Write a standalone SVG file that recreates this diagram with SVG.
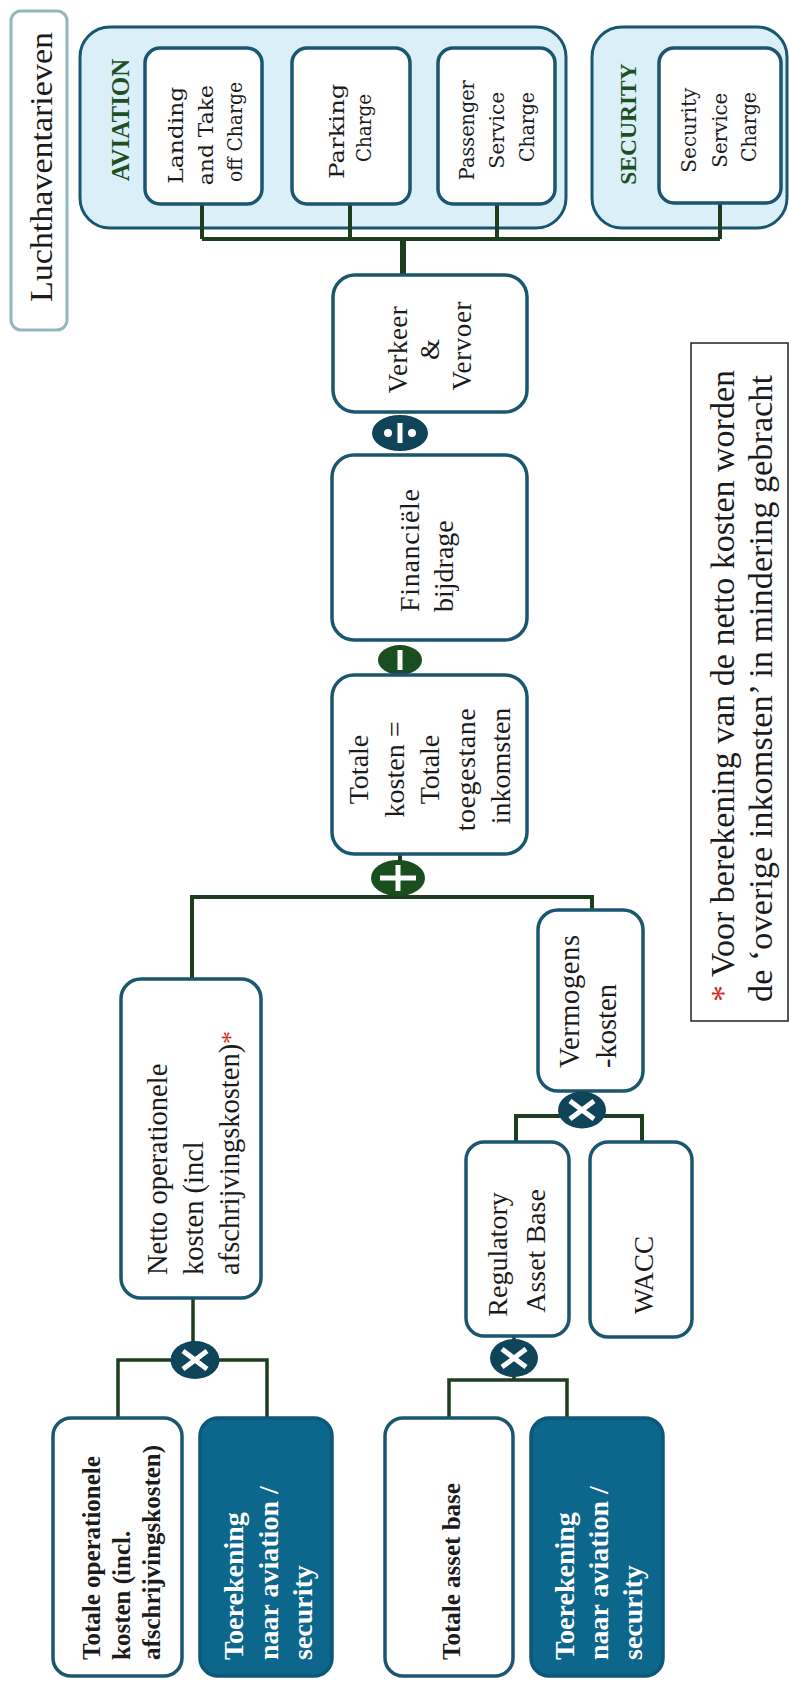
<svg xmlns="http://www.w3.org/2000/svg" width="789" height="1682" viewBox="0 0 789 1682" font-family="'Liberation Serif', 'Times New Roman', serif">
<style>
.bg{fill:#ffffff}
.cont{fill:#dbeff8;stroke:#1b5670;stroke-width:3}
.box{fill:#ffffff;stroke:#1b5670;stroke-width:3.5}
.dark{fill:#0d668b;stroke:#0b5877;stroke-width:3.5}
.title{fill:#ffffff;stroke:#93b7bd;stroke-width:3}
.note{fill:#ffffff;stroke:#222222;stroke-width:1.5}
.con{fill:none;stroke:#1c3d1e;stroke-width:4;stroke-linejoin:miter}
.opg{fill:#1a4d20}
.opt{fill:#0f4459}
.sym{fill:#ffffff}
.symx{stroke:#ffffff;stroke-width:5;stroke-linecap:butt}
text{font-family:"Liberation Serif","Times New Roman",serif;fill:#1b1b1b}
.slab{font-family:"DejaVu Serif","Liberation Serif",serif;font-size:20px}
.t28{font-size:28px}
.hdr{font-weight:bold;fill:#1d4f22}
.b25{font-size:25px;font-weight:bold}
.w28{font-size:28px;font-weight:bold;fill:#ffffff}
.red{fill:#d42a2a}
</style>
<rect class="bg" x="0" y="0" width="789" height="1682"/>

<g id="title">
<rect class="title" x="11" y="11" width="56" height="319" rx="10"/>
<text transform="translate(52,167) rotate(-90)" text-anchor="middle" font-size="32" textLength="270" lengthAdjust="spacingAndGlyphs">Luchthaventarieven</text>
</g>

<g id="aviation">
<rect class="cont" x="80" y="27" width="486" height="201" rx="30"/>
<text class="hdr" transform="translate(129,120) rotate(-90)" text-anchor="middle" font-size="25">AVIATION</text>
</g>
<g id="security">
<rect class="cont" x="592" y="27" width="195" height="201" rx="30"/>
<text class="hdr" transform="translate(636,124) rotate(-90)" text-anchor="middle" font-size="23.5">SECURITY</text>
</g>

<g id="connectors">
<path class="con" d="M202,204 V239 M350,204 V239 M497,200 V239 M720,203 V239 M202,239 H720"/>
<path class="con" style="stroke-width:6" d="M403,239 V276"/>
<path class="con" d="M400,853 V870"/>
<path class="con" d="M192,979 V897 H592 V910"/>
<path class="con" d="M516,1142 V1116 H642 V1142"/>
<path class="con" style="stroke-width:3.5" d="M193,1298 V1360 M118,1418 V1360 H267 V1418"/>
<path class="con" style="stroke-width:3.5" d="M514,1336 V1380 M449,1418 V1380 H567 V1418"/>
</g>

<g id="landing">
<rect class="box" x="145" y="48" width="117" height="156" rx="15"/>
<text class="slab" transform="translate(183,132) rotate(-90)" text-anchor="middle">
<tspan x="0" y="0" textLength="97" lengthAdjust="spacingAndGlyphs">Landing</tspan>
<tspan x="0" dy="30" textLength="100" lengthAdjust="spacingAndGlyphs">and Take</tspan>
<tspan x="0" dy="29" textLength="100" lengthAdjust="spacingAndGlyphs">off Charge</tspan>
</text>
</g>
<g id="parking">
<rect class="box" x="292" y="48" width="118" height="156" rx="15"/>
<text class="slab" transform="translate(344,128) rotate(-90)" text-anchor="middle">
<tspan x="0" y="0" textLength="95" lengthAdjust="spacingAndGlyphs">Parking</tspan>
<tspan x="0" dy="27" textLength="68" lengthAdjust="spacingAndGlyphs">Charge</tspan>
</text>
</g>
<g id="passenger">
<rect class="box" x="438" y="48" width="117" height="156" rx="15"/>
<text class="slab" transform="translate(474,127) rotate(-90)" text-anchor="middle">
<tspan x="0" y="0" textLength="100" lengthAdjust="spacingAndGlyphs">Passenger</tspan>
<tspan x="0" dy="30" textLength="77" lengthAdjust="spacingAndGlyphs">Service</tspan>
<tspan x="0" dy="30" textLength="70" lengthAdjust="spacingAndGlyphs">Charge</tspan>
</text>
</g>
<g id="securitycharge">
<rect class="box" x="659" y="48" width="122" height="155" rx="15"/>
<text class="slab" transform="translate(696,127) rotate(-90)" text-anchor="middle">
<tspan x="0" y="0" textLength="85" lengthAdjust="spacingAndGlyphs">Security</tspan>
<tspan x="0" dy="31" textLength="75" lengthAdjust="spacingAndGlyphs">Service</tspan>
<tspan x="0" dy="29" textLength="70" lengthAdjust="spacingAndGlyphs">Charge</tspan>
</text>
</g>

<g id="verkeer">
<rect class="box" x="333" y="275" width="194" height="137" rx="22"/>
<text transform="translate(407,346) rotate(-90)" text-anchor="middle" font-size="27">
<tspan x="0" y="0" textLength="87" lengthAdjust="spacing">Verkeer</tspan>
<tspan x="0" dy="32">&amp;</tspan>
<tspan x="0" dy="32" textLength="89" lengthAdjust="spacing">Vervoer</tspan>
</text>
</g>
<g id="op-divide">
<ellipse class="opt" cx="400" cy="433" rx="28" ry="18"/>
<rect class="sym" x="397.5" y="423" width="5" height="20"/>
<circle class="sym" cx="388" cy="433" r="4"/>
<circle class="sym" cx="412" cy="433" r="4"/>
</g>
<g id="financiele">
<rect class="box" x="332" y="455" width="195" height="185" rx="22"/>
<text class="t28" transform="translate(419,612) rotate(-90)">
<tspan x="0" y="0" textLength="123" lengthAdjust="spacing">Financiële</tspan>
<tspan x="0" dy="34">bijdrage</tspan>
</text>
</g>
<g id="op-minus">
<ellipse class="opg" cx="400" cy="660" rx="22" ry="15"/>
<rect class="sym" x="397.5" y="650" width="5" height="20"/>
</g>
<g id="totale-kosten">
<rect class="box" x="332" y="675" width="195" height="179" rx="22"/>
<text class="t28" transform="translate(368,766) rotate(-90)" text-anchor="middle">
<tspan x="0" y="0">Totale</tspan>
<tspan x="0" dy="35.5">kosten =</tspan>
<tspan x="0" dy="35.5">Totale</tspan>
<tspan x="0" dy="35.5" textLength="123" lengthAdjust="spacing">toegestane</tspan>
<tspan x="0" dy="35.5">inkomsten</tspan>
</text>
</g>
<g id="op-plus">
<ellipse class="opg" cx="398" cy="878" rx="27" ry="18"/>
<rect class="sym" x="380" y="875.5" width="36" height="5"/>
<rect class="sym" x="395.5" y="865" width="5" height="26"/>
</g>

<g id="netto">
<rect class="box" x="121" y="979" width="140" height="319" rx="20"/>
<text transform="translate(167,1275) rotate(-90)" font-size="28.5">
<tspan x="0" y="0">Netto operationele</tspan>
<tspan x="0" dy="36">kosten (incl</tspan>
<tspan x="0" dy="36">afschrijvingskosten)</tspan><tspan class="red" font-size="26">*</tspan>
</text>
</g>
<g id="vermogens">
<rect class="box" x="538" y="910" width="105" height="181" rx="20"/>
<text transform="translate(579,1068) rotate(-90)" font-size="28.5">
<tspan x="0" y="0" textLength="133" lengthAdjust="spacing">Vermogens</tspan>
<tspan x="0" dy="37">-kosten</tspan>
</text>
</g>
<g id="op-times-1">
<ellipse class="opt" cx="582" cy="1110" rx="24" ry="18.5"/>
<path class="symx" d="M570,1101 L594,1119 M570,1119 L594,1101"/>
</g>
<g id="rab">
<rect class="box" x="466" y="1142" width="103" height="194" rx="18"/>
<text class="t28" transform="translate(507,1251) rotate(-90)" text-anchor="middle">
<tspan x="0" y="0">Regulatory</tspan>
<tspan x="0" dy="38">Asset Base</tspan>
</text>
</g>
<g id="wacc">
<rect class="box" x="590" y="1142" width="102" height="195" rx="18"/>
<text transform="translate(653,1275) rotate(-90)" text-anchor="middle" font-size="27">WACC</text>
</g>
<g id="op-times-2">
<ellipse class="opt" cx="195" cy="1360" rx="24.5" ry="19"/>
<path class="symx" d="M183,1351 L207,1369 M183,1369 L207,1351"/>
</g>
<g id="op-times-3">
<ellipse class="opt" cx="514" cy="1358" rx="24" ry="19"/>
<path class="symx" d="M502,1349 L526,1367 M502,1367 L526,1349"/>
</g>

<g id="totale-operationele">
<rect class="box" x="53" y="1418" width="129" height="258" rx="18"/>
<text transform="translate(100,1660) rotate(-90)" font-size="25" font-weight="bold">
<tspan x="0" y="0">Totale operationele</tspan>
<tspan x="0" dy="30">kosten (incl.</tspan>
<tspan x="0" dy="30" textLength="215" lengthAdjust="spacingAndGlyphs">afschrijvingskosten)</tspan>
</text>
</g>
<g id="toerekening-1">
<rect class="dark" x="200" y="1418" width="132" height="258" rx="18"/>
<text class="w28" transform="translate(243,1660) rotate(-90)">
<tspan x="0" y="0">Toerekening</tspan>
<tspan x="0" dy="34.5">naar aviation /</tspan>
<tspan x="0" dy="34.5">security</tspan>
</text>
</g>
<g id="totale-asset-base">
<rect class="box" x="385" y="1418" width="128" height="258" rx="18"/>
<text class="b25" transform="translate(460,1660) rotate(-90)">Totale asset base</text>
</g>
<g id="toerekening-2">
<rect class="dark" x="531" y="1418" width="132" height="258" rx="18"/>
<text class="w28" transform="translate(574,1660) rotate(-90)">
<tspan x="0" y="0">Toerekening</tspan>
<tspan x="0" dy="34">naar aviation /</tspan>
<tspan x="0" dy="34">security</tspan>
</text>
</g>

<g id="footnote">
<rect class="note" x="691" y="343" width="97" height="678"/>
<text transform="translate(734,1002) rotate(-90)" font-size="33.5" textLength="632" lengthAdjust="spacingAndGlyphs"><tspan class="red">*</tspan> Voor berekening van de netto kosten worden</text>
<text transform="translate(772,1002) rotate(-90)" font-size="33.5" textLength="627" lengthAdjust="spacingAndGlyphs">de ‘overige inkomsten’ in mindering gebracht</text>
</g>
</svg>
